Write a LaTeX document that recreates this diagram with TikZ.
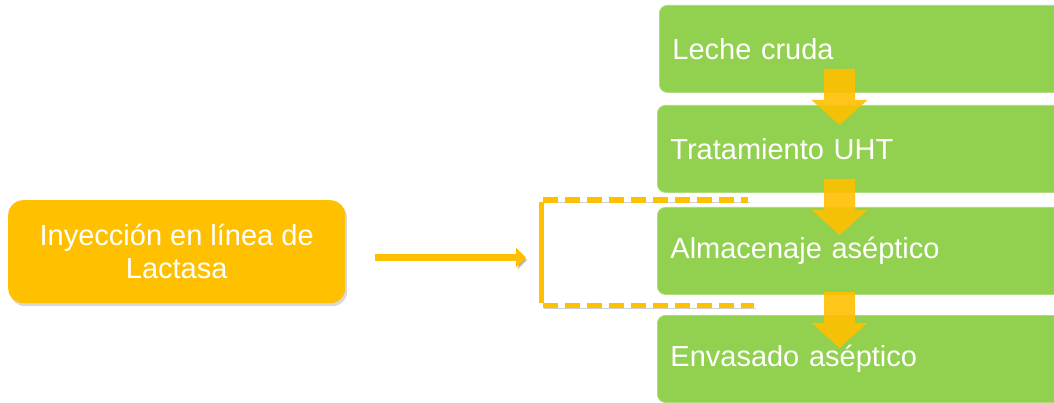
\documentclass[tikz,border=0pt]{standalone}
\usepackage{fontspec}
\setmainfont{Liberation Sans}
\usetikzlibrary{arrows.meta,shadows}
\definecolor{leafgreen}{RGB}{146,208,80}
\definecolor{amber}{RGB}{255,192,0}

\begin{document}
\begin{tikzpicture}[x=1pt,y=-1pt,line join=miter,
  stage/.style={rectangle,rounded corners=8pt,fill=leafgreen,draw=leafgreen!75!white,line width=0.8pt,
    text width=384pt,inner xsep=13pt,inner ysep=0pt,minimum height=87pt,align=left,text=white,
    font=\fontsize{29}{33}\selectfont,anchor=north west},
  enzyme/.style={rectangle,rounded corners=15pt,fill=amber,minimum width=337pt,minimum height=103pt,
    align=center,text=white,font=\fontsize{29}{33}\selectfont,anchor=north west,
    drop shadow={shadow xshift=2pt,shadow yshift=-3pt,opacity=0.3}},
  softshadow/.style={preaction={draw=black,opacity=0.18,transform canvas={xshift=1.5pt,yshift=-2.5pt}}},
  feed/.style={amber,line width=7.5pt,softshadow,-{Triangle[width=19pt,length=10pt]}},
  bracketline/.style={amber,line width=5pt,softshadow},
  bracketdash/.style={amber,line width=5.5pt,dash pattern=on 15pt off 7pt,softshadow},
  flowarrow/.style={fill=amber,fill opacity=0.9}]
\useasboundingbox (0,0) rectangle (1054,403);
\clip (0,0) rectangle (1054,403);
% process line
\node[stage] (leche) at (659,5) {Leche cruda};
\node[stage] (uht) at (657,105) {Tratamiento UHT};
\node[stage] (alm) at (657,207) {Almacenaje aséptico};
\node[stage] (env) at (657,315) {Envasado aséptico};
% block arrows between the stages
\foreach \ty in {69,179,292}
  \fill[flowarrow] (824,\ty) -- (855,\ty) -- (855,\ty+31) -- (867.5,\ty+31) -- (839.5,\ty+56)
    -- (811.5,\ty+31) -- (824,\ty+31) -- cycle;
% lactase injection
\node[enzyme] (iny) at (8,200) {Inyección en línea de\\Lactasa};
\coordinate (feedstart) at (375,257.5);
\coordinate (feedend) at (526,257.5);
\draw[feed] (feedstart) -- (feedend);
% bracket round the storage stage
\coordinate (btop) at (541.5,200);
\coordinate (bbot) at (541.5,305.5);
\draw[bracketline] ([yshift=-2.5pt]btop) -- ([yshift=3pt]bbot);
\draw[bracketdash] ([xshift=1pt]btop) -- (748,200);
\draw[bracketdash] ([xshift=1pt]bbot) -- (754,305.5);
\end{tikzpicture}
\end{document}
